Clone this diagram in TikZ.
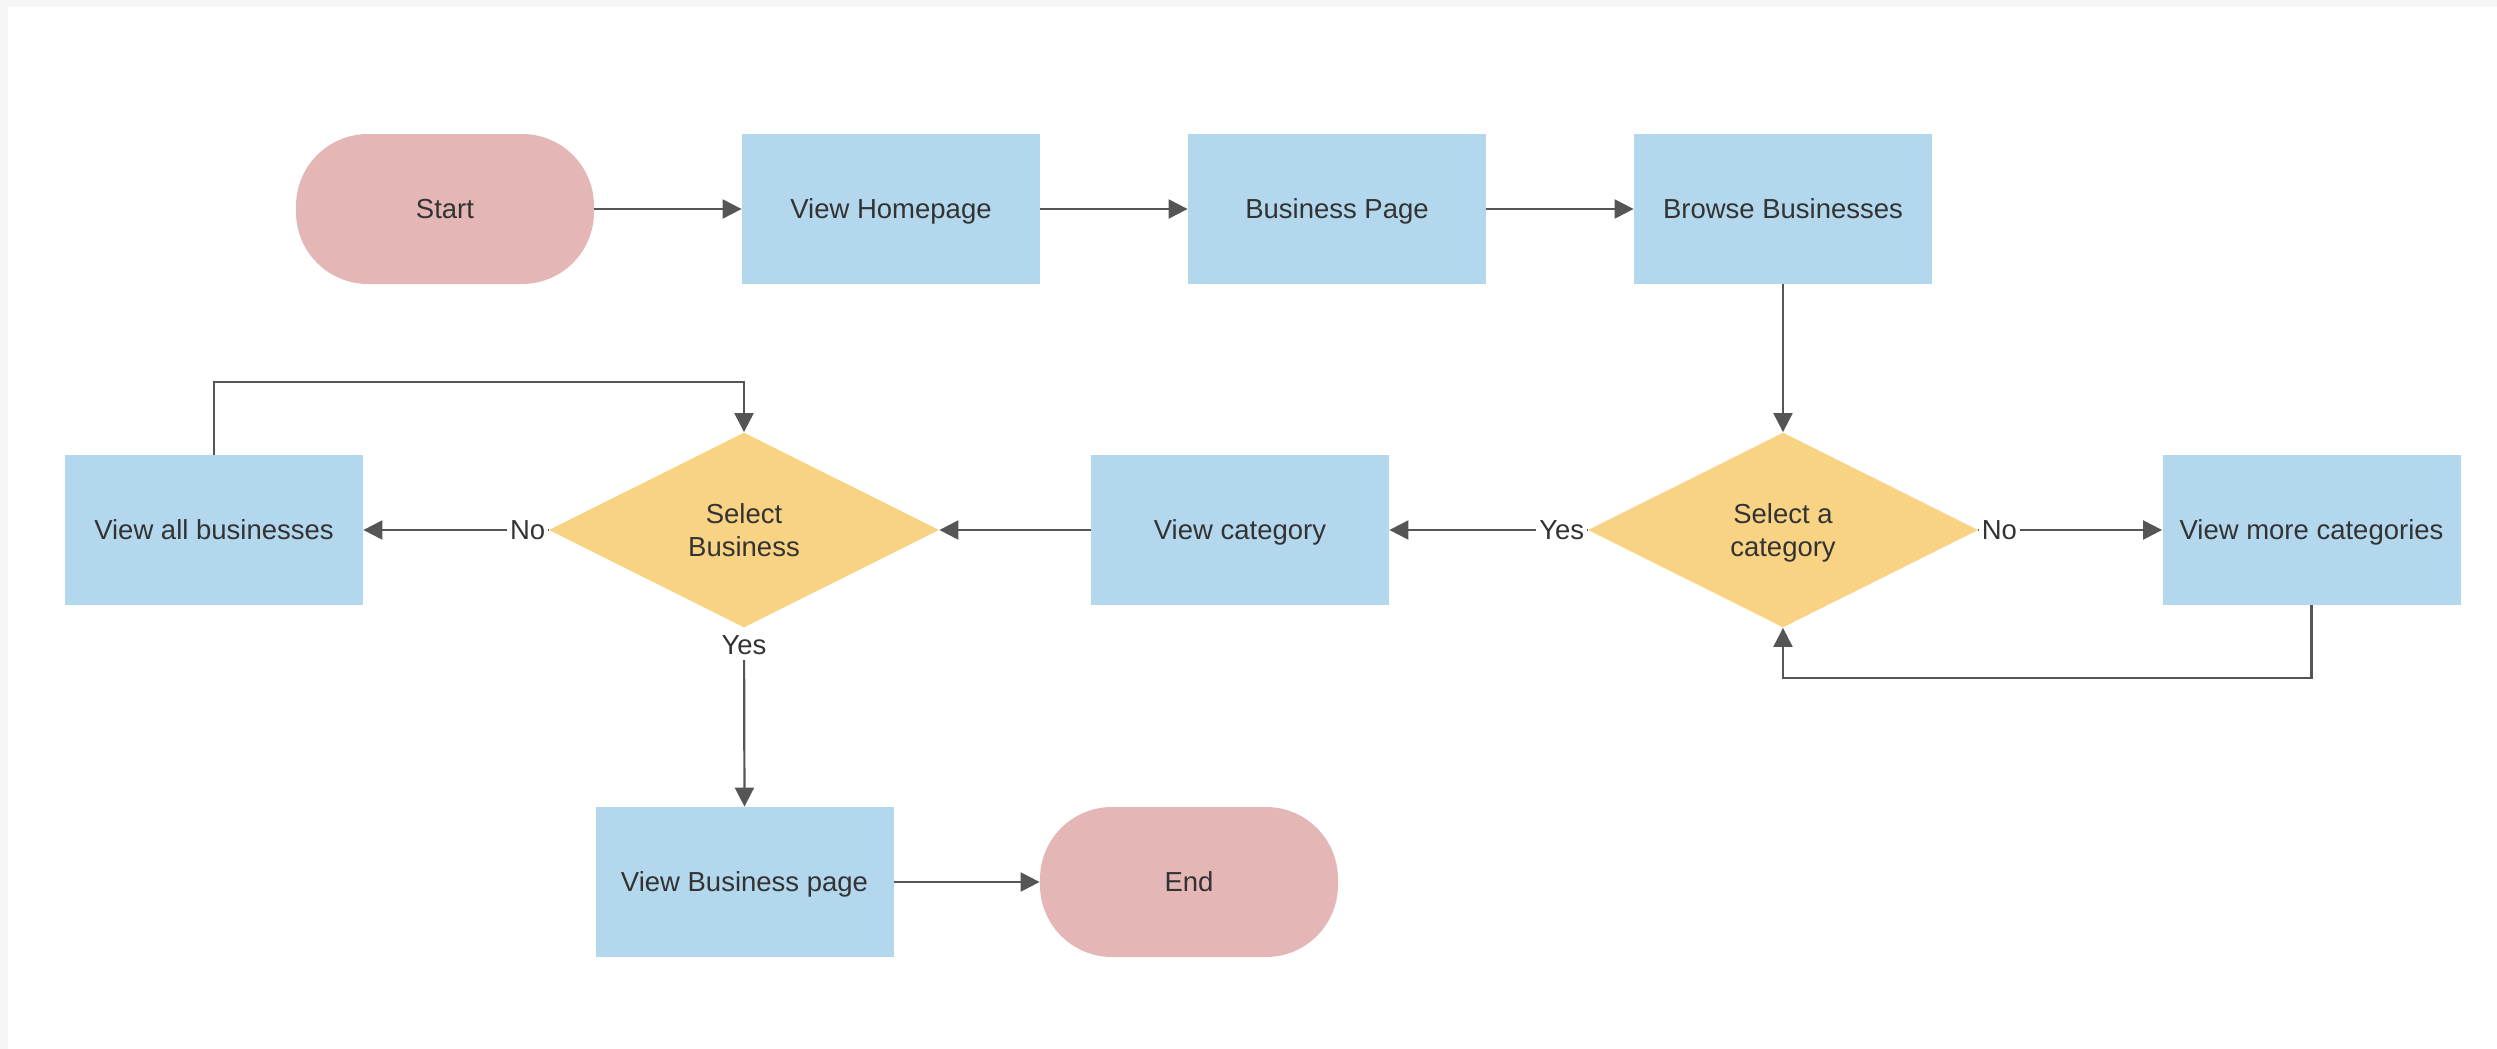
\documentclass[tikz,border=0pt]{standalone}
\usepackage{fontspec}
\setmainfont{Liberation Sans}
\usetikzlibrary{shapes.geometric,arrows.meta}
\definecolor{procfill}{HTML}{B3D7EC}
\definecolor{termfill}{HTML}{E4B6B5}
\definecolor{decfill}{HTML}{F9D384}
\definecolor{linegray}{HTML}{555555}
\definecolor{textgray}{HTML}{333333}
\definecolor{pagegray}{HTML}{F6F6F6}
\tikzset{
  base/.style={font=\fontsize{13.75}{15}\selectfont, text=textgray, inner sep=0pt},
  oneline/.style={base, text height=9.9pt, text depth=0pt},
  procbox/.style={oneline, rectangle, fill=procfill, minimum width=149pt, minimum height=75pt},
  termbox/.style={oneline, rectangle, rounded corners=36pt, fill=termfill, minimum width=149pt, minimum height=75pt},
  decbox/.style={base, font=\fontsize{13.75}{16.5}\selectfont, diamond, aspect=2, fill=decfill,
    minimum width=195pt, minimum height=97.5pt, align=center, text depth=0pt},
  flow/.style={draw=linegray, line width=1.1pt, -{Triangle[length=9.5pt,width=9.5pt]}},
  answer/.style={oneline, fill=white, inner sep=1.5pt}
}
\begin{document}
\begin{tikzpicture}[x=0.5pt, y=-0.5pt]
  % page background
  \fill[pagegray] (0,0) rectangle (2497,1049);
  \fill[white] (8,7) rectangle (2497,1049);
  \useasboundingbox (0,0) rectangle (2497,1049);

  % top row
  \node[termbox] (start)  at (445,209)  {Start};
  \node[procbox] (home)   at (891,209)  {View Homepage};
  \node[procbox] (bpage)  at (1337,209) {Business Page};
  \node[procbox] (browse) at (1783,209) {Browse Businesses};

  % middle row
  \node[procbox] (allbiz)  at (214,530)    {View all businesses};
  \node[decbox]  (selbus)  at (744,530)    {Select\\Business};
  \node[procbox] (viewcat) at (1240,530)   {View category};
  \node[decbox]  (selcat)  at (1783,530)   {Select a\\category};
  \node[procbox] (morecat) at (2311.5,530) {View more categories};

  % bottom row
  \node[procbox] (vbp) at (744.5,882) {View Business page};
  \node[termbox] (end) at (1189,882)  {End};

  % loop bends
  \coordinate (busloop) at (744,382);
  \coordinate (catloop) at (1783,678);

  % connectors
  \draw[flow] (start) -- (home);
  \draw[flow] (home) -- (bpage);
  \draw[flow] (bpage) -- (browse);
  \draw[flow] (browse) -- (selcat.north);
  \draw[flow] (selcat.east) -- (morecat.west);
  \draw[flow] (selcat.west) -- (viewcat.east);
  \draw[flow] (morecat.south) |- (catloop) -- (selcat.south);
  \draw[flow] (viewcat.west) -- (selbus.east);
  \draw[flow] (selbus.west) -- (allbiz.east);
  \draw[flow] (allbiz.north) |- (busloop) -- (selbus.north);
  \draw[flow] (selbus.south) -- (vbp.north);
  \draw[flow] (vbp) -- (end);

  % branch labels
  \node[answer, anchor=west]  (catno)  at (selcat.east) {No};
  \node[answer, anchor=east]  (catyes) at (selcat.west) {Yes};
  \node[answer, anchor=east]  (busno)  at (selbus.west) {No};
  \node[answer, anchor=north, inner sep=3pt] (busyes) at (selbus.south) {Yes};
\end{tikzpicture}
\end{document}
